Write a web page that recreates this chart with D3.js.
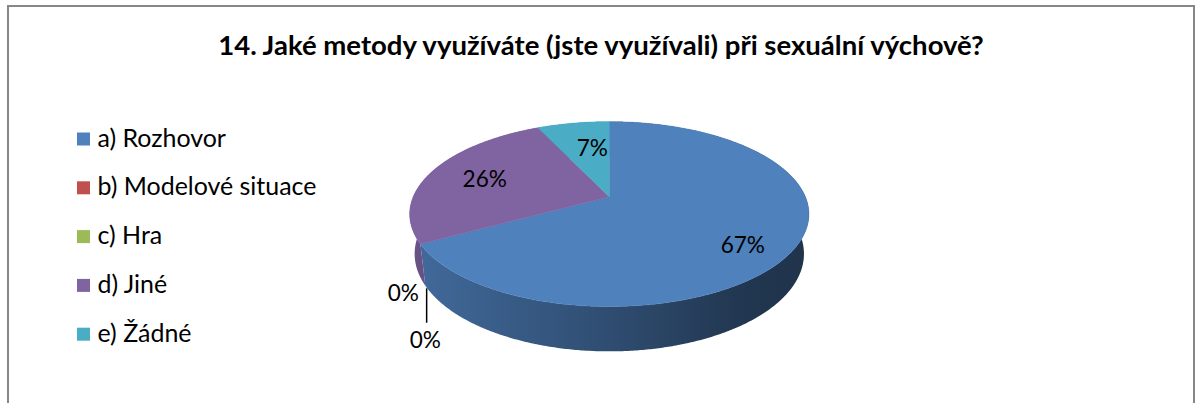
<!DOCTYPE html>
<html><head><meta charset="utf-8">
<script src="https://cdn.jsdelivr.net/npm/d3@7"></script>
<style>body{margin:0;background:#fff}svg{display:block}</style>
</head><body>
<svg id="c" width="1196" height="403"></svg>
<script>
const title = "14. Jaké metody využíváte (jste využívali) při sexuální výchově?";
const categories = ["a) Rozhovor", "b) Modelové situace", "c) Hra", "d) Jiné", "e) Žádné"];
const values = [67, 0, 0, 26, 7];
const valueLabels = ["67%", "0%", "0%", "26%", "7%"];
const colors = ["#4F81BD", "#C0504D", "#9BBB59", "#8064A2", "#4BACC6"];

const FONT = "Lato, 'Open Sans', sans-serif";
const svg = d3.select("#c");
const defs = svg.append("defs");

// frame
svg.append("rect").attr("x", 8).attr("y", 6).attr("width", 1186).attr("height", 500)
  .attr("fill", "#fff").attr("stroke", "#878787").attr("stroke-width", 2);

function fit(sel, target) {
  const w = sel.node().getComputedTextLength();
  const fs = parseFloat(sel.attr("font-size"));
  sel.attr("font-size", fs * target / w);
}

// title
const t = svg.append("text").attr("x", 601).attr("y", 54.5).attr("text-anchor", "middle")
  .attr("font-family", FONT).attr("font-weight", "bold").attr("font-size", 24)
  .attr("fill", "#000").text(title);
fit(t, 766);

// legend
const legItems = svg.append("g").selectAll("g").data(categories).join("g")
  .attr("transform", (d, i) => `translate(0,${146.5 + i * 48.8})`);
legItems.append("rect").attr("x", 77).attr("y", -14).attr("width", 13).attr("height", 13)
  .attr("fill", (d, i) => colors[i]);
const legTexts = legItems.append("text").attr("x", 97.5).attr("y", 0)
  .attr("font-family", FONT).attr("font-size", 20).attr("fill", "#000").text(d => d);
{
  const w = legTexts.nodes()[1].getComputedTextLength();
  legTexts.attr("font-size", 20 * 219 / w);
}

// 3D pie projection
const phi = 29.5 * Math.PI / 180, D = 4.74, H = 0.23, F = 907, CX = 609.3, CY = 196.7;
function raw(th, r, Y) {
  const X = r * Math.sin(th), Z = r * Math.cos(th);
  const yup = Y * Math.cos(phi) + Z * Math.sin(phi);
  const d = Z * Math.cos(phi) - Y * Math.sin(phi);
  const s = F / (D + d);
  return [X * s, -yup * s, d];
}
const c0 = raw(0, 0, H);
function proj(th, r, Y) {
  const p = raw(th, r, Y);
  return [CX + p[0] - c0[0], CY + p[1] - c0[1], p[2]];
}
const xLeft = proj(-Math.PI / 2, 1, H)[0], xRight = proj(Math.PI / 2, 1, H)[0];

const arcs = d3.pie().sort(null).value(d => d)(values);
const pieG = svg.append("g");

// side walls: one path per slice, shaded with a left-to-right gradient
arcs.forEach((a, i) => {
  if (a.endAngle - a.startAngle <= 0) return;
  const base = d3.rgb(colors[i]);
  const g = defs.append("linearGradient").attr("id", "side" + i)
    .attr("gradientUnits", "userSpaceOnUse")
    .attr("x1", xLeft).attr("x2", xRight).attr("y1", 0).attr("y2", 0);
  [[0, 0.82], [0.5, 0.6], [0.85, 0.42], [1, 0.4]].forEach(([o, f]) =>
    g.append("stop").attr("offset", o).attr("stop-color", d3.rgb(base.r * f, base.g * f, base.b * f).toString()));
  const n = Math.max(2, Math.ceil((a.endAngle - a.startAngle) / (Math.PI / 360)));
  const top = [], bot = [];
  for (let k = 0; k <= n; k++) {
    const th = a.startAngle + (a.endAngle - a.startAngle) * k / n;
    top.push(proj(th, 1, H));
    bot.push(proj(th, 1, 0));
  }
  const pts = top.concat(bot.reverse());
  pieG.append("path").attr("d", "M" + pts.map(p => p[0] + "," + p[1]).join("L") + "Z")
    .attr("fill", `url(#side${i})`);
});

// top faces
arcs.forEach((a, i) => {
  if (a.endAngle - a.startAngle <= 0) return;
  const n = Math.max(2, Math.ceil((a.endAngle - a.startAngle) / (Math.PI / 360)));
  const pts = [proj(0, 0, H)];
  for (let k = 0; k <= n; k++) pts.push(proj(a.startAngle + (a.endAngle - a.startAngle) * k / n, 1, H));
  pieG.append("path").attr("d", "M" + pts.map(p => p[0] + "," + p[1]).join("L") + "Z")
    .attr("fill", colors[i]).attr("stroke", colors[i]).attr("stroke-width", 0.5);
});

// data labels
const labelNudge = [[6.9, 22], [-22, 15.3], [0, 62.6], [0.8, 9.2], [9.5, 13.3]];
const lab = svg.append("g").attr("font-family", FONT).attr("fill", "#000").attr("text-anchor", "middle");
const labTexts = [];
arcs.forEach((a, i) => {
  const p = (a.endAngle - a.startAngle > 0)
    ? proj((a.startAngle + a.endAngle) / 2, 0.7, H)
    : proj(a.startAngle, 1, 0);
  labTexts.push(lab.append("text").attr("x", p[0] + labelNudge[i][0]).attr("y", p[1] + labelNudge[i][1])
    .attr("font-size", 20).text(valueLabels[i]));
});
{
  const w = labTexts[0].node().getComputedTextLength();
  labTexts.forEach(s => s.attr("font-size", 20 * 44.3 / w));
}
// leader line for the zero slice c)
{
  const p = proj(arcs[2].startAngle, 1, 0);
  svg.append("line").attr("x1", p[0] + 1.3).attr("x2", p[0] + 1.3)
    .attr("y1", p[1] + 2.6).attr("y2", p[1] + 37)
    .attr("stroke", "#000").attr("stroke-width", 1.5);
}
</script>
</body></html>
